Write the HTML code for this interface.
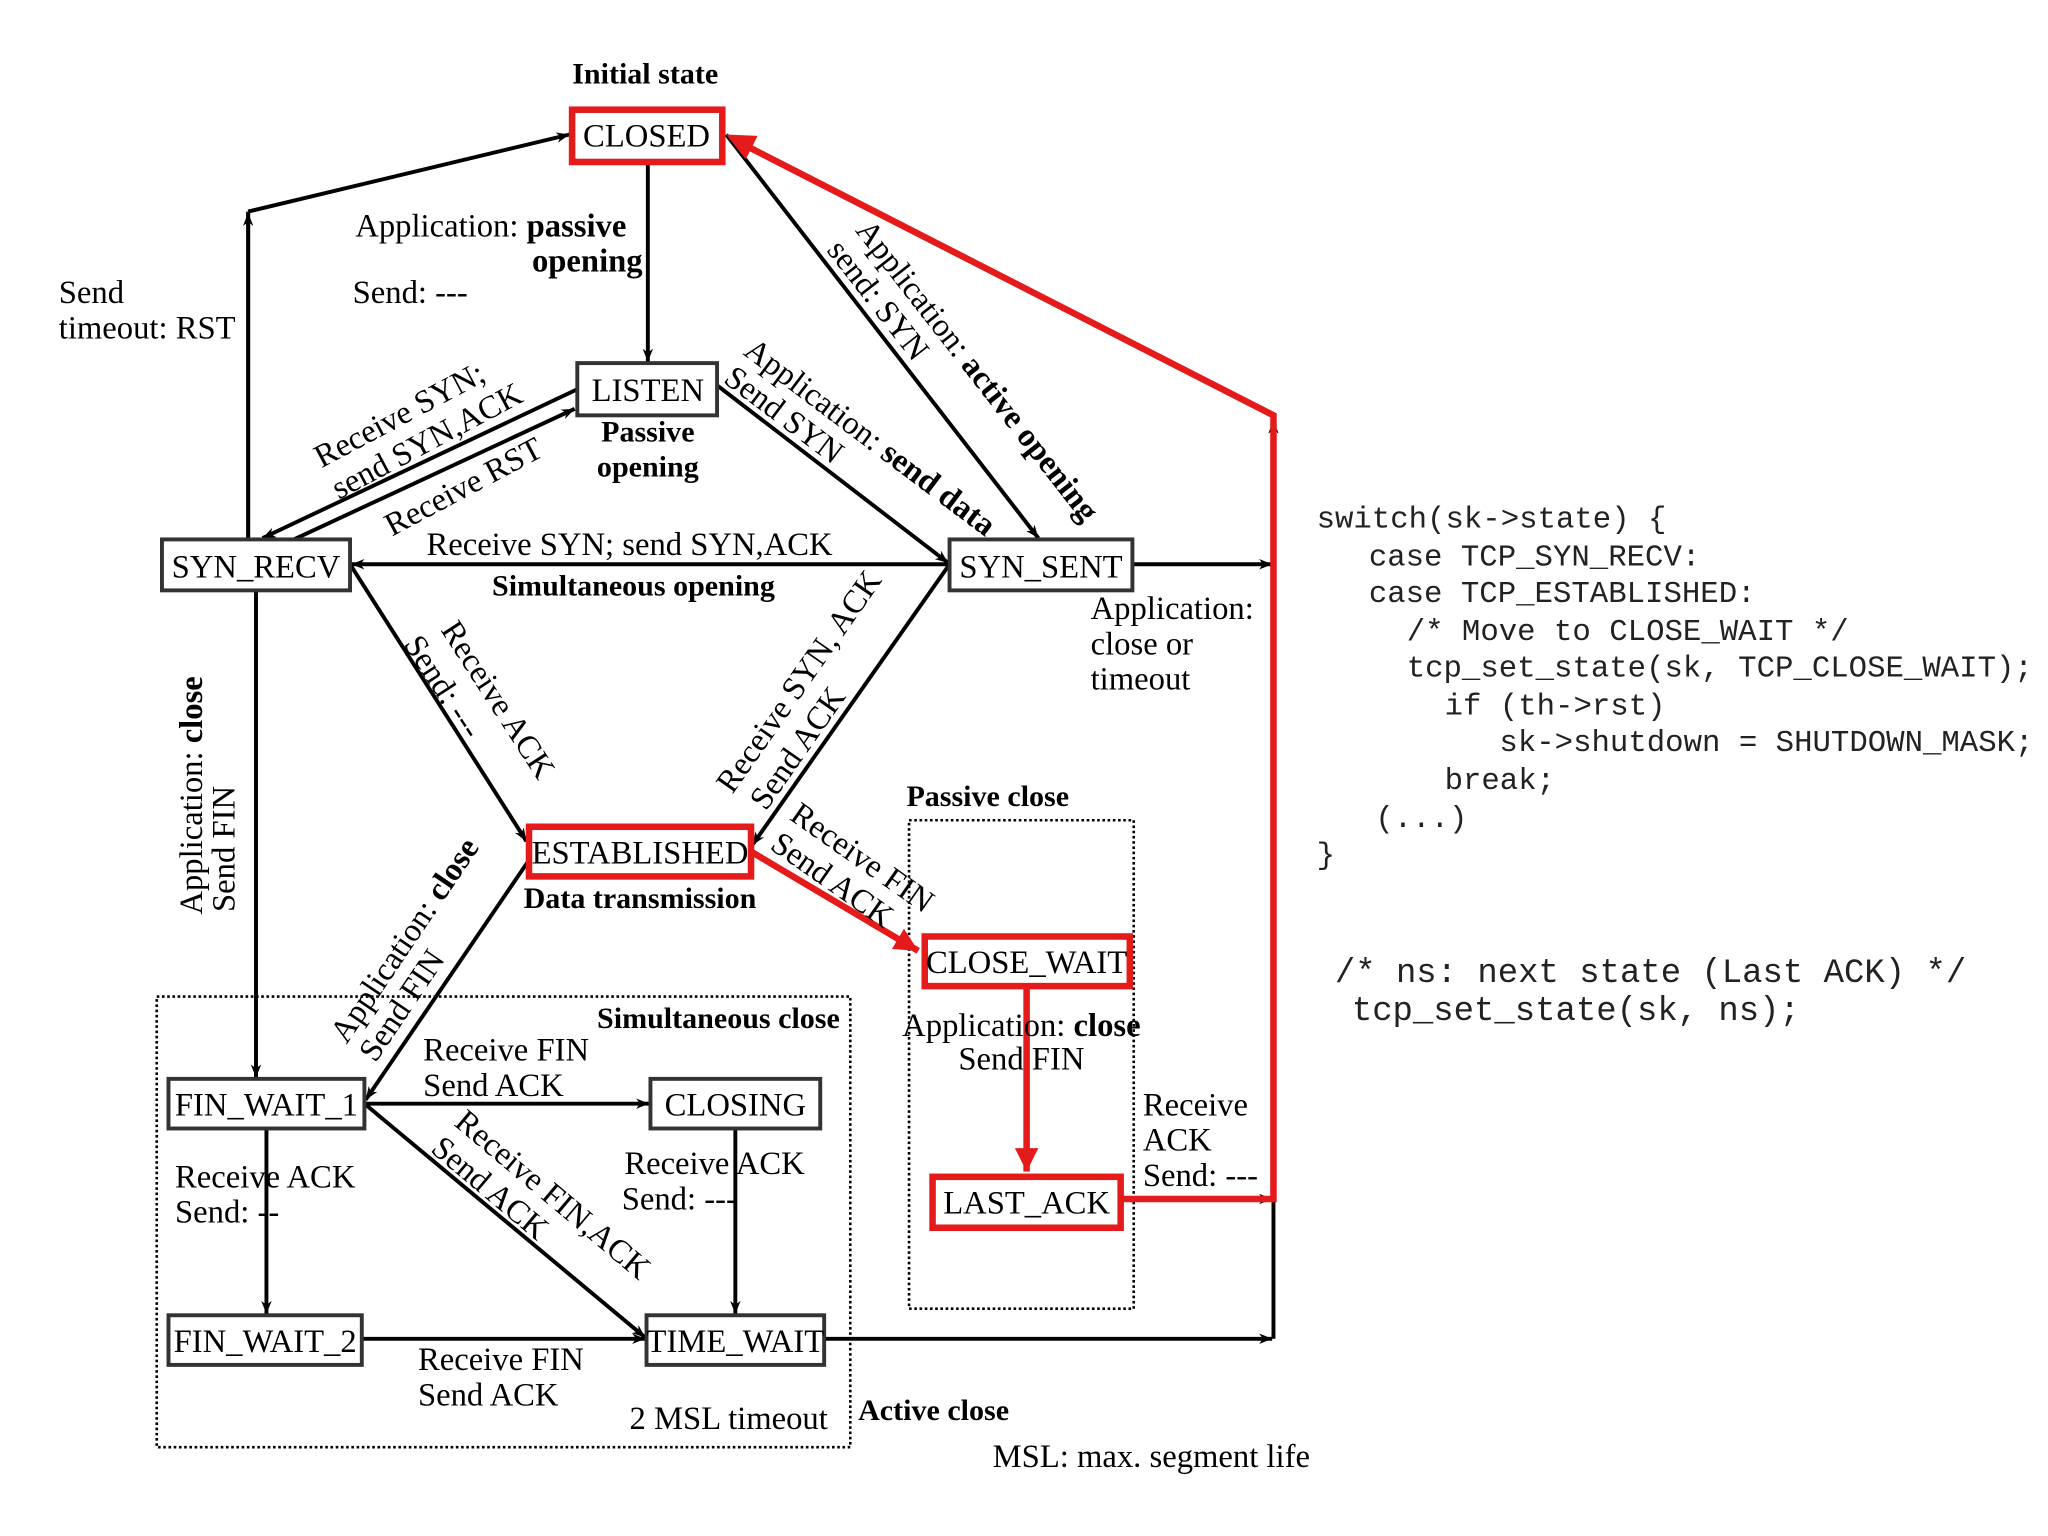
<!DOCTYPE html>
<html><head><meta charset="utf-8"><style>
html,body{margin:0;padding:0;background:#fff}
svg{display:block}
text{font-family:"Liberation Serif",serif;font-size:25px;fill:#000}
.b{font-weight:bold}
.m{font-family:"Liberation Mono",monospace;font-size:23.5px;fill:#222}
.m2{font-family:"Liberation Mono",monospace;font-size:26px;fill:#222}
.c{text-anchor:middle}
.r{dominant-baseline:central;text-anchor:middle}
</style></head><body>
<svg width="2048" height="1536" viewBox="0 0 1568 1176" preserveAspectRatio="none" xmlns="http://www.w3.org/2000/svg">
<defs>
<marker id="a" viewBox="0 0 10 10" refX="10" refY="5" markerWidth="12" markerHeight="10" markerUnits="userSpaceOnUse" orient="auto"><path d="M0,1 L10,5 L0,9 L3,5 z" fill="#000"/></marker>
<marker id="ar" viewBox="0 0 10 10" refX="10" refY="5" markerWidth="22" markerHeight="18" markerUnits="userSpaceOnUse" orient="auto"><path d="M0,0 L10,5 L0,10 z" fill="#e51b1b"/></marker>
</defs>
<rect width="1568" height="1176" fill="#fff"/>

<!-- dotted boxes -->
<rect x="120" y="763" width="531" height="345" fill="none" stroke="#000" stroke-width="2" stroke-dasharray="2,2"/>
<rect x="696" y="628" width="172" height="374" fill="none" stroke="#000" stroke-width="2" stroke-dasharray="2,2"/>

<g stroke="#000" stroke-width="3" fill="none">
<line x1="496" y1="124" x2="496" y2="277" marker-end="url(#a)"/>
<polyline points="190,413 190,162"/>
<line x1="190" y1="413" x2="190" y2="163" marker-end="url(#a)"/>
<line x1="190" y1="162" x2="436" y2="103" marker-end="url(#a)"/>
<line x1="556" y1="103" x2="795" y2="412" marker-end="url(#a)"/>
<line x1="549" y1="295" x2="726" y2="431" marker-end="url(#a)"/>
<line x1="442" y1="298" x2="201" y2="412" marker-end="url(#a)"/>
<line x1="225" y1="413" x2="440" y2="313" marker-end="url(#a)"/>
<line x1="727" y1="432" x2="269" y2="432" marker-end="url(#a)"/>
<line x1="867" y1="432" x2="974" y2="432" marker-end="url(#a)"/>
<line x1="268" y1="432" x2="403" y2="644" marker-end="url(#a)"/>
<line x1="727" y1="432" x2="576" y2="647" marker-end="url(#a)"/>
<line x1="196" y1="452" x2="196" y2="825" marker-end="url(#a)"/>
<line x1="404" y1="660" x2="280" y2="842" marker-end="url(#a)"/>
<line x1="279" y1="845" x2="497" y2="845" marker-end="url(#a)"/>
<line x1="279" y1="845" x2="494" y2="1024" marker-end="url(#a)"/>
<line x1="204" y1="864" x2="204" y2="1006" marker-end="url(#a)"/>
<line x1="563" y1="864" x2="563" y2="1006" marker-end="url(#a)"/>
<line x1="277" y1="1025" x2="494" y2="1025" marker-end="url(#a)"/>
<line x1="631" y1="1025" x2="974" y2="1025" marker-end="url(#a)"/>
<line x1="975" y1="1025" x2="975" y2="320"/>
<line x1="975" y1="340" x2="975" y2="322" marker-end="url(#a)"/>
<line x1="860" y1="918" x2="974" y2="918" marker-end="url(#a)"/>
</g>

<!-- red path -->
<g stroke="#e51b1b" stroke-width="5" fill="none">
<polyline points="858,918 975,918 975,318 572,112"/>
<line x1="575" y1="652" x2="703" y2="728" marker-end="url(#ar)"/>
<line x1="786" y1="755" x2="786" y2="897" marker-end="url(#ar)"/>
</g>
<path d="M556,103 L580,104 L571,122 z" fill="#e51b1b"/>

<!-- boxes -->
<g fill="#fff" stroke="#333" stroke-width="3">
<rect x="442" y="278" width="107" height="40"/>
<rect x="124" y="413" width="144" height="39"/>
<rect x="727" y="413" width="140" height="39"/>
<rect x="129" y="826" width="150" height="38"/>
<rect x="498" y="826" width="130" height="38"/>
<rect x="129" y="1007" width="148" height="38"/>
<rect x="495" y="1007" width="136" height="38"/>
</g>
<g fill="#fff" stroke="#e51b1b" stroke-width="5">
<rect x="438" y="84" width="115" height="40"/>
<rect x="405" y="633" width="170" height="38"/>
<rect x="708" y="717" width="157" height="38"/>
<rect x="714" y="901" width="144" height="39"/>
</g>

<!-- node labels -->
<text class="c" x="495" y="112">CLOSED</text>
<text class="c" x="496" y="307">LISTEN</text>
<text class="c" x="196" y="442">SYN_RECV</text>
<text class="c" x="797" y="442">SYN_SENT</text>
<text class="c" x="490" y="661">ESTABLISHED</text>
<text class="c" x="786" y="745">CLOSE_WAIT</text>
<text class="c" x="786" y="929">LAST_ACK</text>
<text class="c" x="204" y="854">FIN_WAIT_1</text>
<text class="c" x="563" y="854">CLOSING</text>
<text class="c" x="203" y="1035">FIN_WAIT_2</text>
<text class="c" x="563" y="1035">TIME_WAIT</text>

<!-- labels -->
<text class="c b" x="494" y="64" style="font-size:23px">Initial state</text>
<text class="c b" x="496" y="338" style="font-size:23px">Passive</text>
<text class="c b" x="496" y="365" style="font-size:23px">opening</text>
<text class="c b" x="490" y="695" style="font-size:23px">Data transmission</text>
<text x="45" y="232">Send</text>
<text x="45" y="259">timeout: RST</text>
<text x="272" y="181">Application: <tspan class="b">passive</tspan></text>
<text class="b" x="492" y="208" style="text-anchor:end">opening</text>
<text x="270" y="232">Send: ---</text>
<text class="c" x="482" y="425">Receive SYN; send SYN,ACK</text>
<text class="c b" x="485" y="456" style="font-size:23px">Simultaneous opening</text>
<text x="835" y="474">Application:</text>
<text x="835" y="501">close or</text>
<text x="835" y="528">timeout</text>
<text class="b" x="694" y="617" style="font-size:23px">Passive close</text>
<text class="b" x="643" y="787" style="text-anchor:end;font-size:23px">Simultaneous close</text>
<text x="324" y="812">Receive FIN</text>
<text x="324" y="839">Send ACK</text>
<text class="c" x="782" y="793">Application: <tspan class="b">close</tspan></text>
<text class="c" x="782" y="819">Send FIN</text>
<text x="875" y="854">Receive</text>
<text x="875" y="881">ACK</text>
<text x="875" y="908">Send: ---</text>
<text x="134" y="909">Receive ACK</text>
<text x="134" y="936">Send: --</text>
<text x="478" y="899">Receive ACK</text>
<text x="476" y="926">Send: ---</text>
<text x="320" y="1049">Receive FIN</text>
<text x="320" y="1076">Send ACK</text>
<text x="482" y="1094">2 MSL timeout</text>
<text class="b" x="657" y="1087" style="font-size:23px">Active close</text>
<text x="760" y="1123">MSL: max. segment life</text>

<!-- rotated labels -->
<text class="r" transform="translate(306,318) rotate(-28)">Receive SYN;</text>
<text class="r" transform="translate(327,338) rotate(-28)">send SYN,ACK</text>
<text class="r" transform="translate(355,373) rotate(-28)">Receive RST</text>
<text class="r" transform="translate(666,335) rotate(37)">Application: <tspan class="b">send data</tspan></text>
<text class="r" transform="translate(600,318) rotate(37)">Send SYN</text>
<text class="r" transform="translate(748,284) rotate(52)">Application: <tspan class="b">active opening</tspan></text>
<text class="r" transform="translate(672,230) rotate(52)">send: SYN</text>
<text class="r" transform="translate(381,536) rotate(57)">Receive ACK</text>
<text class="r" transform="translate(339,526) rotate(57)">Send: ---</text>
<text class="r" transform="translate(612,522) rotate(-55)">Receive SYN, ACK</text>
<text class="r" transform="translate(611,573) rotate(-55)">Send ACK</text>
<text class="r" transform="translate(147,609) rotate(-90)">Application: <tspan class="b">close</tspan></text>
<text class="r" transform="translate(172,650) rotate(-90)">Send FIN</text>
<text class="r" transform="translate(310,720) rotate(-56)">Application: <tspan class="b">close</tspan></text>
<text class="r" transform="translate(308,770) rotate(-56)">Send FIN</text>
<text class="r" transform="translate(660,657) rotate(35)">Receive FIN</text>
<text class="r" transform="translate(637,674) rotate(35)">Send ACK</text>
<text class="r" transform="translate(423,915) rotate(40)">Receive FIN,ACK</text>
<text class="r" transform="translate(375,910) rotate(40)">Send ACK</text>

<!-- code -->
<text class="m" x="1008" y="404" xml:space="preserve">switch(sk-&gt;state) {</text>
<text class="m" x="1048" y="433">case TCP_SYN_RECV:</text>
<text class="m" x="1048" y="461">case TCP_ESTABLISHED:</text>
<text class="m" x="1077" y="490">/* Move to CLOSE_WAIT */</text>
<text class="m" x="1077" y="518">tcp_set_state(sk, TCP_CLOSE_WAIT);</text>
<text class="m" x="1106" y="547">if (th-&gt;rst)</text>
<text class="m" x="1148" y="575">sk-&gt;shutdown = SHUTDOWN_MASK;</text>
<text class="m" x="1106" y="604">break;</text>
<text class="m" x="1053" y="633">(...)</text>
<text class="m" x="1008" y="661">}</text>
<text class="m2" x="1022" y="752">/* ns: next state (Last ACK) */</text>
<text class="m2" x="1035" y="781">tcp_set_state(sk, ns);</text>
</svg>
</body></html>
